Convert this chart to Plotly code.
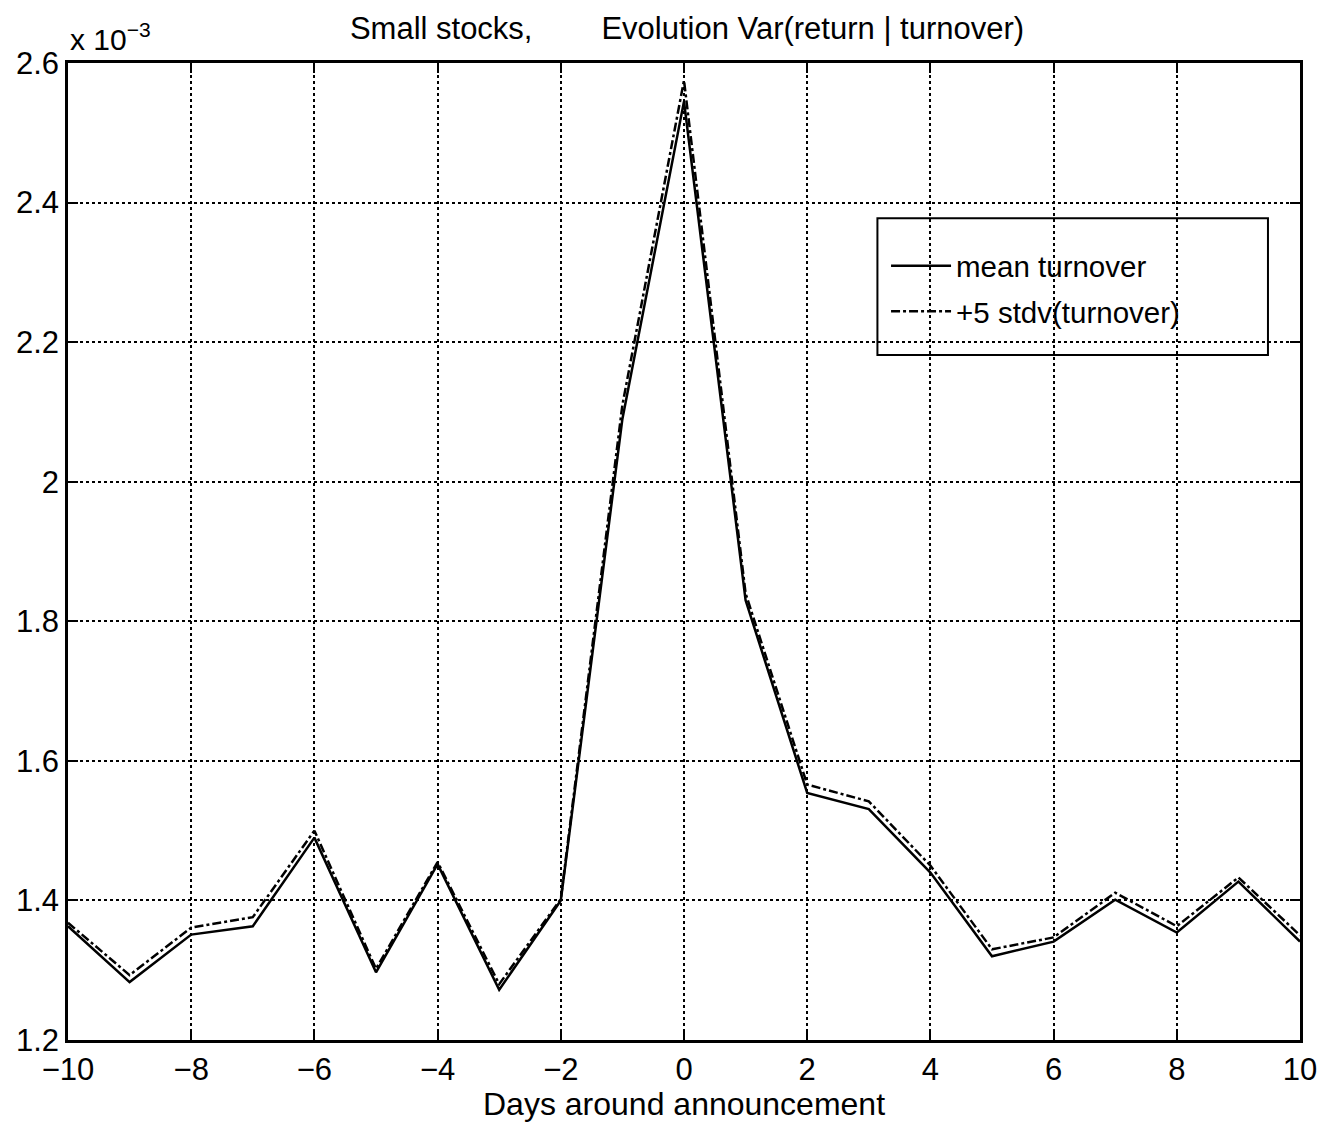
import plotly.graph_objects as go

days = list(range(-10, 11))
# values in units of 1e-3
mean_turnover = [1.363, 1.283, 1.351, 1.363, 1.490, 1.297, 1.452, 1.272, 1.400, 2.090,
                 2.545, 1.830, 1.554, 1.531, 1.440, 1.320, 1.341, 1.401, 1.354, 1.427, 1.341]
plus5_stdv = [1.368, 1.293, 1.361, 1.376, 1.500, 1.302, 1.455, 1.280, 1.402, 2.110,
              2.575, 1.840, 1.566, 1.542, 1.450, 1.330, 1.347, 1.411, 1.363, 1.433, 1.350]

x_ticks = list(range(-10, 11, 2))
y_ticks = [1.2, 1.4, 1.6, 1.8, 2.0, 2.2, 2.4, 2.6]
y_tick_text = ["1.2", "1.4", "1.6", "1.8", "2", "2.2", "2.4", "2.6"]

FONT = "Liberation Sans, Arial, Helvetica, sans-serif"

fig = go.Figure()
fig.add_trace(go.Scatter(x=days, y=mean_turnover, mode="lines", name="mean turnover",
                         legendgroup="a",
                         line=dict(color="black", width=2.5, dash="solid")))
fig.add_trace(go.Scatter(x=days, y=plus5_stdv, mode="lines", name="+5 stdv(turnover)",
                         legendgroup="b",
                         line=dict(color="black", width=2.5, dash="dashdot")))

axis_common = dict(showline=True, linecolor="black", linewidth=2.5, mirror="allticks",
                   ticks="inside", ticklen=10, tickwidth=2, tickcolor="black",
                   showgrid=True, gridcolor="black", gridwidth=1.5, griddash="dot",
                   zeroline=False, automargin=False,
                   tickfont=dict(family=FONT, size=31, color="black"))

fig.update_xaxes(range=[-10, 10], tickvals=x_ticks,
                 ticktext=[("\u2212" + str(-v)) if v < 0 else str(v) for v in x_ticks],
                 **axis_common)
fig.update_yaxes(range=[1.2, 2.6], tickvals=y_ticks, ticktext=y_tick_text, **axis_common)

# x-axis title
fig.add_annotation(x=0.5, y=-(1104 - 1040) / 977, xref="paper", yref="paper",
                   xanchor="center", yanchor="middle", showarrow=False,
                   text="Days around announcement",
                   font=dict(family=FONT, size=32, color="black"))

# exponent label
fig.add_annotation(x=0, y=1, xref="paper", yref="paper", xanchor="left", yanchor="bottom",
                   text="x 10<sup>\u22123</sup>", showarrow=False, xshift=0, yshift=5,
                   font=dict(family=FONT, size=30, color="black"))

fig.add_shape(type="rect", xref="paper", yref="paper", x0=0.657, x1=0.974, y0=0.701, y1=0.841,
              line=dict(color="black", width=2), layer="above")

fig.update_layout(
    width=1321, height=1123,
    margin=dict(l=68, r=21, t=63, b=83),
    paper_bgcolor="white", plot_bgcolor="white",
    title=dict(text="Small stocks," + "\u00a0" * 8 + "Evolution Var(return | turnover)",
               x=687 / 1321, xanchor="center", y=1 - 28 / 1123, yanchor="middle",
               font=dict(family=FONT, size=31, color="black")),
    legend=dict(x=0.664, y=0.769, xanchor="left", yanchor="middle",
                bgcolor="rgba(0,0,0,0)", borderwidth=0,
                font=dict(family=FONT, size=29.5, color="black"), itemwidth=60,
                tracegroupgap=4),
    showlegend=True,
)

fig.write_html("out.html")
